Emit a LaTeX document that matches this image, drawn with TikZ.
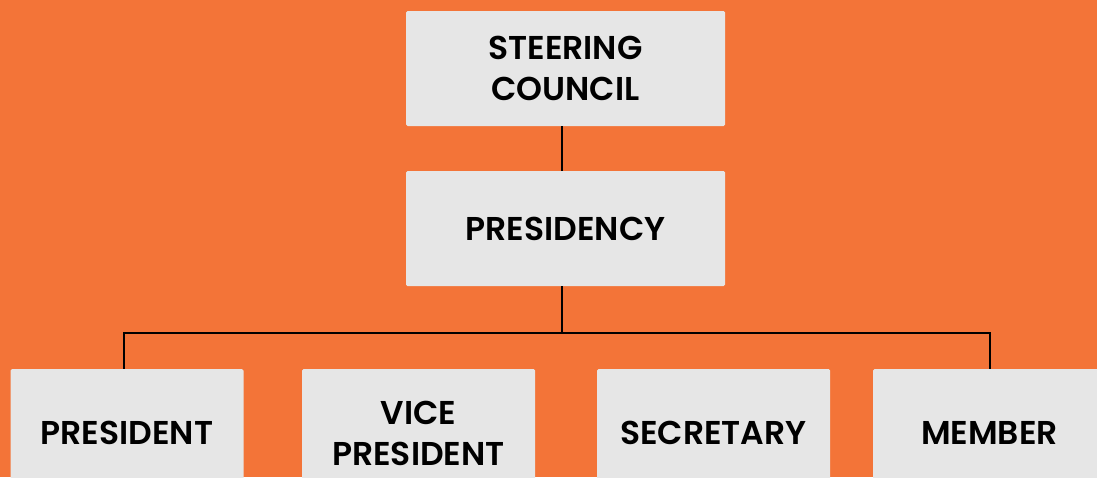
\documentclass[tikz,border=0pt]{standalone}
\usepackage{fontspec}
\setmainfont{Poppins}[BoldFont={Poppins SemiBold}]
\definecolor{bgorange}{HTML}{F37438}
\definecolor{boxgray}{HTML}{E6E6E6}
\begin{document}
\begin{tikzpicture}[x=1pt,y=-1pt,
  box/.style={fill=boxgray, rounded corners=1.5pt, draw=none, inner sep=0pt,
    align=center, font=\fontsize{33}{41}\selectfont\bfseries, text=black},
  conn/.style={draw=black, line width=1.8pt}]
\fill[bgorange] (0,0) rectangle (1097,477);
\useasboundingbox (0,0) rectangle (1097,477);
\begin{scope}
\clip (0,0) rectangle (1097,477);
\node[box, minimum width=319pt, minimum height=115pt] (sc) at (565.5,68.5) {STEERING\\COUNCIL};
\node[box, minimum width=319pt, minimum height=115pt] (pr) at (565.5,228.5) {\raisebox{-4pt}{PRESIDENCY}};
\node[box, minimum width=233pt, minimum height=128pt] (p) at (127,433) {PRESIDENT};
\node[box, minimum width=233pt, minimum height=128pt] (vp) at (418.5,433) {VICE\\PRESIDENT};
\node[box, minimum width=233pt, minimum height=128pt] (se) at (713.5,433) {SECRETARY};
\node[box, minimum width=233pt, minimum height=128pt] (me) at (989.5,433) {MEMBER};
\end{scope}
\coordinate (hl) at (124,333);
\coordinate (hr) at (990,333);
\draw[conn] (sc.south -| 562,0) -- (pr.north -| 562,0);
\draw[conn] (pr.south -| 562,0) -- (562,333);
\draw[conn] (p.north -| hl) -- (hl) -- (hr) -- (me.north -| hr);
\end{tikzpicture}
\end{document}
